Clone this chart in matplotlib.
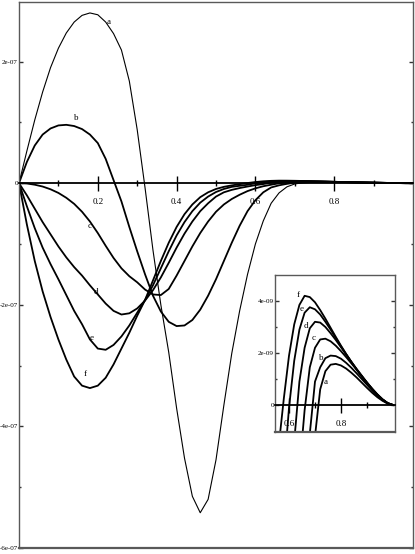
import numpy as np
import matplotlib
matplotlib.use('Agg')
import matplotlib.pyplot as plt
from matplotlib.ticker import FixedLocator, FuncFormatter

x_vals = np.linspace(0, 1, 51)

curva_a = [0, 53, 104, 150, 190, 222, 247, 265, 276, 280,
           277, 265, 246, 219, 168, 88, -8, -110, -200, -278,
           -370, -452, -515, -542, -520, -455, -365, -280, -210, -150,
           -100, -62, -33, -16, -6, -1.2, 0.6, 1.3, 1.55, 1.58,
           1.52, 1.4, 1.24, 1.06, 0.86, 0.66, 0.47, 0.3, 0.16, 0.05,
           0]
curva_b = [0, 35, 62, 80, 90, 95, 96, 94, 89, 80,
           66, 40, 5, -30, -72, -112, -150, -185, -211, -228,
           -235, -234, -225, -208, -185, -158, -128, -98, -70, -46,
           -28, -15, -7, -3.5, -1.1, 0.9, 1.45, 1.8, 1.9, 1.88,
           1.78, 1.62, 1.43, 1.22, 1.0, 0.78, 0.56, 0.36, 0.19, 0.06,
           0]
curva_c = [0, -0.5, -2.5, -5.5, -10, -16, -24, -34, -47, -63,
           -82, -103, -123, -140, -153, -163, -175, -183, -184, -174,
           -152, -128, -104, -82, -63, -47, -35, -26, -19, -13,
           -8.5, -5, -2.5, -0.2, 1.45, 2.2, 2.52, 2.55, 2.45, 2.28,
           2.07, 1.84, 1.6, 1.36, 1.11, 0.86, 0.62, 0.4, 0.21, 0.07,
           0]
curva_d = [0, -20, -42, -64, -84, -104, -122, -138, -152, -168,
           -183, -198, -210, -216, -214, -206, -193, -176, -155, -131,
           -106, -83, -63, -46, -33, -22, -15, -11, -8, -5.5,
           -3.2, -1.4, 0.9, 2.2, 2.95, 3.2, 3.17, 3.0, 2.76, 2.5,
           2.22, 1.94, 1.66, 1.39, 1.13, 0.87, 0.63, 0.41, 0.22, 0.07,
           0]
curva_e = [0, -38, -74, -106, -133, -158, -184, -210, -232, -257,
           -272, -274, -266, -252, -234, -213, -192, -168, -140, -112,
           -86, -64, -46, -32, -22, -14.5, -9.5, -6, -4.3, -2.6,
           -0.1, 1.7, 2.9, 3.55, 3.76, 3.68, 3.48, 3.2, 2.9, 2.58,
           2.26, 1.95, 1.65, 1.37, 1.1, 0.85, 0.61, 0.4, 0.21, 0.07,
           0]
curva_f = [0, -68, -128, -178, -220, -257, -290, -318, -333, -337,
           -333, -320, -298, -272, -246, -218, -192, -160, -128, -98,
           -72, -51, -35, -23, -15, -9.5, -6, -3.6, -1.6, 0.25,
           1.9, 3.1, 3.85, 4.2, 4.15, 3.95, 3.65, 3.32, 2.97, 2.62,
           2.28, 1.96, 1.66, 1.37, 1.1, 0.85, 0.61, 0.4, 0.21, 0.07,
           0]

nombres = ['a', 'b', 'c', 'd', 'e', 'f']
curvas = [curva_a, curva_b, curva_c, curva_d, curva_e, curva_f]

plt.rcParams['font.family'] = ['Liberation Serif', 'DejaVu Serif']
fig = plt.figure(figsize=(4.15, 5.54), dpi=100)

def fmt_exp(v, pos):
    if abs(v) < 1e-15:
        return '0'
    return f'{v:.0e}'

def preparar_ejes(ax, xmaj, xmin, ymaj, ymin, xlabels):
    ax.spines['bottom'].set_position(('data', 0))
    ax.spines['bottom'].set_color('black')
    ax.spines['bottom'].set_linewidth(1.3)
    for s in ['left', 'right', 'top']:
        ax.spines[s].set_color('0.35')
        ax.spines[s].set_linewidth(1.0)
    # borde inferior del marco
    ax.plot([0, 1], [0, 0], transform=ax.transAxes, color='0.35', lw=1.6, clip_on=False)
    ax.xaxis.set_major_locator(FixedLocator(xmaj))
    ax.xaxis.set_minor_locator(FixedLocator(xmin))
    ax.xaxis.set_major_formatter(FuncFormatter(lambda v, p: xlabels.get(round(v, 2), '')))
    ax.yaxis.set_major_locator(FixedLocator(ymaj))
    ax.yaxis.set_minor_locator(FixedLocator(ymin))
    ax.yaxis.set_major_formatter(FuncFormatter(fmt_exp))
    ax.tick_params(axis='x', which='major', direction='inout', length=10.8, width=1, pad=5.5, labelsize=6.5)
    ax.tick_params(axis='x', which='minor', direction='inout', length=4.8, width=1)
    ax.tick_params(axis='y', which='both', direction='in', left=True, right=True,
                   labelsize=5, pad=0.8, width=1, color='0.2')
    ax.tick_params(axis='y', which='major', length=3)
    ax.tick_params(axis='y', which='minor', length=1.5)

# grafico principal
ax = fig.add_axes([19 / 415, 6 / 554, 394 / 415, 546 / 554])
for nombre, vals in zip(nombres, curvas):
    ax.plot(x_vals, np.array(vals) * 1e-9, color='black', lw=0.8 if nombre == 'a' else 1.3)
ax.set_xlim(0, 1)
ax.set_ylim(-6e-7, 2.98e-7)
preparar_ejes(ax, [0.2, 0.4, 0.6, 0.8], [0.1, 0.3, 0.5, 0.7, 0.9],
              [-6e-7, -4e-7, -2e-7, 0, 2e-7], [-5e-7, -3e-7, -1e-7, 1e-7],
              {0.2: '0.2', 0.4: '0.4', 0.6: '0.6', 0.8: '0.8'})

etiquetas_main = {'a': (0.228, 265), 'b': (0.145, 107), 'c': (0.178, -70),
                  'd': (0.195, -179), 'e': (0.185, -254), 'f': (0.168, -314)}
for nombre, (xx, yy) in etiquetas_main.items():
    ax.text(xx, yy * 1e-9, nombre, fontsize=6.5, ha='center', va='center')

# recuadro ampliado
ax2 = fig.add_axes([275 / 415, 122 / 554, 120 / 415, 157 / 554])
for nombre, vals in zip(nombres, curvas):
    ax2.plot(x_vals, np.array(vals) * 1e-9, color='black', lw=1.3)
ax2.set_xlim(0.546, 1.008)
ax2.set_ylim(-1.04e-9, 5e-9)
preparar_ejes(ax2, [0.6, 0.8], [0.7, 0.9], [0, 2e-9, 4e-9], [1e-9, 3e-9],
              {0.6: '0.6', 0.8: '0.8'})

etiquetas_zoom = {'a': (0.742, 0.88), 'b': (0.723, 1.81), 'c': (0.696, 2.58),
                  'd': (0.665, 3.04), 'e': (0.65, 3.69), 'f': (0.635, 4.23)}
for nombre, (xx, yy) in etiquetas_zoom.items():
    ax2.text(xx, yy * 1e-9, nombre, fontsize=6.5, ha='center', va='center')

plt.savefig('out.png', dpi=100)
